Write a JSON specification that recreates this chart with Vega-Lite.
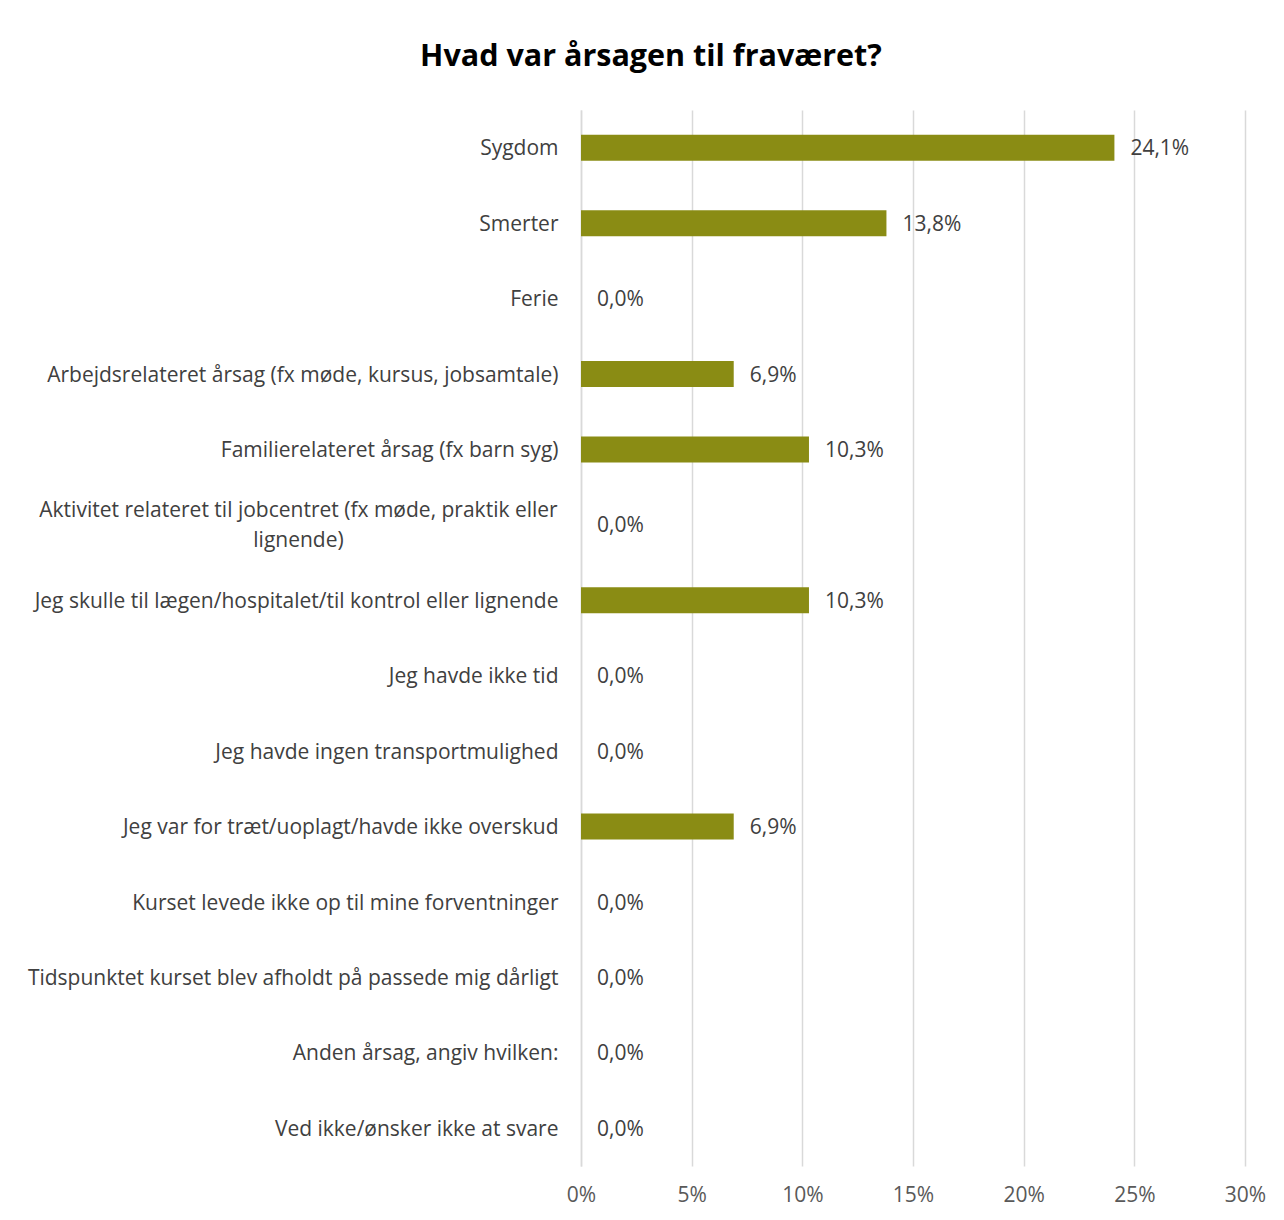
{
  "$schema": "https://vega.github.io/schema/vega-lite/v6.json",
  "autosize": {"type": "none"},
  "width": 664,
  "height": 1056,
  "padding": {"left": 581, "top": 110, "right": 39, "bottom": 54},
  "background": "white",
  "title": {
    "text": "Hvad var årsagen til fraværet?",
    "font": "Open Sans",
    "fontSize": 30.5,
    "fontWeight": "bold",
    "color": "#000000",
    "anchor": "middle",
    "frame": "group",
    "dx": -262,
    "offset": 38
  },
  "config": {
    "locale": {"number": {"decimal": ",", "thousands": ".", "grouping": [3], "currency": ["", " kr."]}},
    "view": {"stroke": null},
    "font": "Open Sans"
  },
  "data": {
    "values": [
      {"category": "Sygdom", "value": 0.241},
      {"category": "Smerter", "value": 0.138},
      {"category": "Ferie", "value": 0.0},
      {"category": "Arbejdsrelateret årsag (fx møde, kursus, jobsamtale)", "value": 0.069},
      {"category": "Familierelateret årsag (fx barn syg)", "value": 0.103},
      {"category": "Aktivitet relateret til jobcentret (fx møde, praktik eller lignende)", "value": 0.0},
      {"category": "Jeg skulle til lægen/hospitalet/til kontrol eller lignende", "value": 0.103},
      {"category": "Jeg havde ikke tid", "value": 0.0},
      {"category": "Jeg havde ingen transportmulighed", "value": 0.0},
      {"category": "Jeg var for træt/uoplagt/havde ikke overskud", "value": 0.069},
      {"category": "Kurset levede ikke op til mine forventninger", "value": 0.0},
      {"category": "Tidspunktet kurset blev afholdt på passede mig dårligt", "value": 0.0},
      {"category": "Anden årsag, angiv hvilken:", "value": 0.0},
      {"category": "Ved ikke/ønsker ikke at svare", "value": 0.0}
    ]
  },
  "encoding": {
    "y": {
      "field": "category",
      "type": "nominal",
      "sort": null,
      "title": null,
      "scale": {"paddingInner": 0.655, "paddingOuter": 0.3275},
      "axis": {
        "ticks": false,
        "domain": true,
        "domainColor": "#d9d9d9",
        "domainWidth": 1.5,
        "labelPadding": {"condition": {"test": "datum.value == 'Aktivitet relateret til jobcentret (fx møde, praktik eller lignende)'", "value": 283}, "value": 23},
        "labelAlign": {"condition": {"test": "datum.value == 'Aktivitet relateret til jobcentret (fx møde, praktik eller lignende)'", "value": "center"}, "value": "right"},
        "labelFontSize": 21,
        "labelColor": "#404040",
        "labelLimit": 700,
        "labelLineHeight": 30,
        "labelOffset": {"condition": {"test": "datum.value == 'Aktivitet relateret til jobcentret (fx møde, praktik eller lignende)'", "value": -14}, "value": 1.5},
        "labelExpr": "datum.value == 'Aktivitet relateret til jobcentret (fx møde, praktik eller lignende)' ? ['Aktivitet relateret til jobcentret (fx møde, praktik eller', 'lignende)'] : datum.value"
      }
    },
    "x": {
      "field": "value",
      "type": "quantitative",
      "title": null,
      "scale": {"domain": [0, 0.3], "nice": false},
      "axis": {
        "values": [0, 0.05, 0.1, 0.15, 0.2, 0.25, 0.3],
        "format": "0%",
        "ticks": false,
        "domain": false,
        "grid": true,
        "gridColor": "#d9d9d9",
        "gridWidth": 1.5,
        "labelFlush": false,
        "labelFontSize": 21,
        "labelColor": "#595959",
        "labelPadding": 18
      }
    }
  },
  "layer": [
    {"mark": {"type": "bar", "color": "#8a8c14"}},
    {
      "mark": {"type": "text", "align": "left", "baseline": "middle", "dx": 16, "dy": 1.5, "fontSize": 21, "color": "#404040"},
      "encoding": {"text": {"field": "value", "type": "quantitative", "format": ".1%"}}
    }
  ]
}
